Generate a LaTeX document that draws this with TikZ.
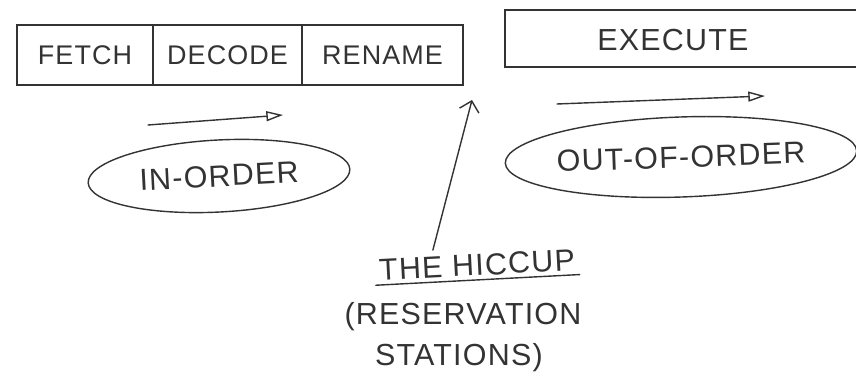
\documentclass[tikz,border=0pt]{standalone}
\usepackage{fontspec}
\setsansfont{Liberation Sans}[LetterSpace=4]
\usetikzlibrary{arrows.meta,positioning,shapes.geometric}

\begin{document}
\begin{tikzpicture}[x=0.03cm,y=-0.03cm,>={Triangle[open,length=5mm,width=3mm]},
  font=\sffamily\fontsize{26}{35}\selectfont,line cap=round,
  pen/.style={black!80,line width=1.2pt},
  cell/.style={pen,draw,rectangle,minimum height=1.8cm,inner sep=0pt,outer sep=0pt,
    font=\sffamily\fontsize{23}{28}\selectfont},
  blob/.style={pen,draw,ellipse,inner sep=0pt}]
\useasboundingbox (0,0) rectangle (856,376);
\node[cell,minimum width=4.08cm] (fetch) at (85,55) {FETCH};
\node[cell,minimum width=4.47cm,right=0pt of fetch] (decode) {DECODE};
\node[cell,minimum width=4.83cm,right=0pt of decode] (rename) {RENAME};
\node[black!80] (execute) at (673,40) {EXECUTE};
\draw[pen] (856,10) -- (505,10) -- (505,67) -- (856,67);
\coordinate (io1) at (148,125);
\coordinate (io2) at (283,115);
\draw[pen,->] (io1) -- (io2);
\coordinate (oo1) at (557,104);
\coordinate (oo2) at (765,96);
\draw[pen,->] (oo1) -- (oo2);
\node[blob,minimum width=7.86cm,minimum height=2.16cm,rotate=3] (inorder) at (219,176) {IN-ORDER};
\node[blob,minimum width=10.38cm,minimum height=2.4cm,rotate=2] (outorder) at (681,157) {OUT-OF-ORDER};
\node[black!80,rotate=3] (hiccup) at (477,265) {THE HICCUP};
\draw[pen] (hiccup.south west) -- (hiccup.south east);
\node[black!80,align=left] (stations) at (463,337) {(RESERVATION\\\hspace{1em}STATIONS)};
\coordinate (gap) at (472,100);
\draw[pen,-{Straight Barb[length=3mm]}] ([xshift=-1.3cm]hiccup.north) -- (gap);
\end{tikzpicture}
\end{document}
